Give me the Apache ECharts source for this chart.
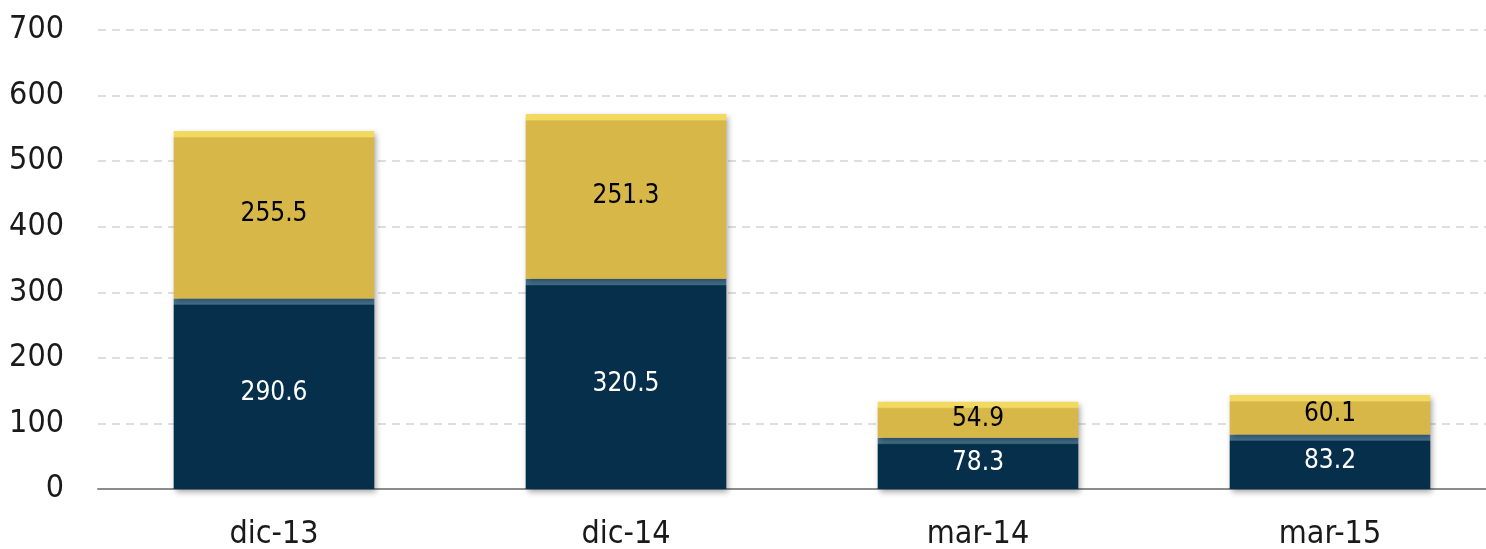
<!DOCTYPE html>
<html>
<head>
<meta charset="utf-8">
<script src="https://cdn.jsdelivr.net/npm/echarts@6/dist/echarts.min.js"></script>
<style>
  html, body { margin: 0; padding: 0; background: #fff; }
</style>
</head>
<body>
<div id="chart" style="width:1486px;height:549px;"></div>
<script>
const categories = ['dic-13', 'dic-14', 'mar-14', 'mar-15']
const bottomValues = [290.6, 320.5, 78.3, 83.2]
const topValues = [255.5, 251.3, 54.9, 60.1]
const yTicks = { min: 0, max: 700, interval: 100 }

const FONT = '"DejaVu Sans Condensed", "Liberation Sans Narrow", "Arial Narrow", sans-serif'
const pxPerUnit = 459 / 700 // plot height / range, used only for the bevel strip

// bevel: lighter strip on top of each block
function bevel (value, light, base) {
  const stop = Math.min(0.5, 7 / (value * pxPerUnit))
  return {
    type: 'linear', x: 0, y: 0, x2: 0, y2: 1,
    colorStops: [
      { offset: 0, color: light },
      { offset: stop * 0.8, color: light },
      { offset: stop, color: base },
      { offset: 1, color: base }
    ]
  }
}

const chart = echarts.init(document.getElementById('chart'))
chart.setOption({
  animation: false,
  grid: { left: 98, width: 1408, top: 30, bottom: 60, containLabel: false, outerBoundsMode: 'none' },
  xAxis: {
    type: 'category',
    data: categories,
    axisTick: { show: false },
    axisLine: { lineStyle: { color: '#8c8c8c', width: 2 } },
    axisLabel: { fontFamily: FONT, fontSize: 32, color: '#1a1a1a', margin: 30 }
  },
  yAxis: {
    type: 'value',
    min: yTicks.min,
    max: yTicks.max,
    interval: yTicks.interval,
    axisLine: { show: false },
    axisTick: { show: false },
    axisLabel: { fontFamily: FONT, fontSize: 32, color: '#1a1a1a', margin: 34 },
    splitLine: { lineStyle: { color: '#d4d4d4', type: [8, 6], width: 1.5 } }
  },
  series: [
    {
      type: 'bar',
      stack: 'total',
      barWidth: '57%',
      data: bottomValues.map(v => ({
        value: v,
        itemStyle: { color: bevel(v, '#44728f', '#052f4a') }
      })),
      itemStyle: { shadowBlur: 6, shadowOffsetX: 2, shadowOffsetY: 3, shadowColor: 'rgba(0,0,0,0.35)' },
      label: {
        show: true, position: 'inside', color: '#fff',
        fontFamily: FONT, fontSize: 26,
        formatter: p => p.value.toFixed(1)
      }
    },
    {
      type: 'bar',
      stack: 'total',
      barWidth: '57%',
      data: topValues.map(v => ({
        value: v,
        itemStyle: { color: bevel(v, '#f2d95f', '#d6b748') }
      })),
      itemStyle: { shadowBlur: 6, shadowOffsetX: 2, shadowOffsetY: 3, shadowColor: 'rgba(0,0,0,0.35)' },
      label: {
        show: true, position: 'inside', color: '#000',
        fontFamily: FONT, fontSize: 26,
        formatter: p => p.value.toFixed(1)
      }
    }
  ]
})
</script>
</body>
</html>
